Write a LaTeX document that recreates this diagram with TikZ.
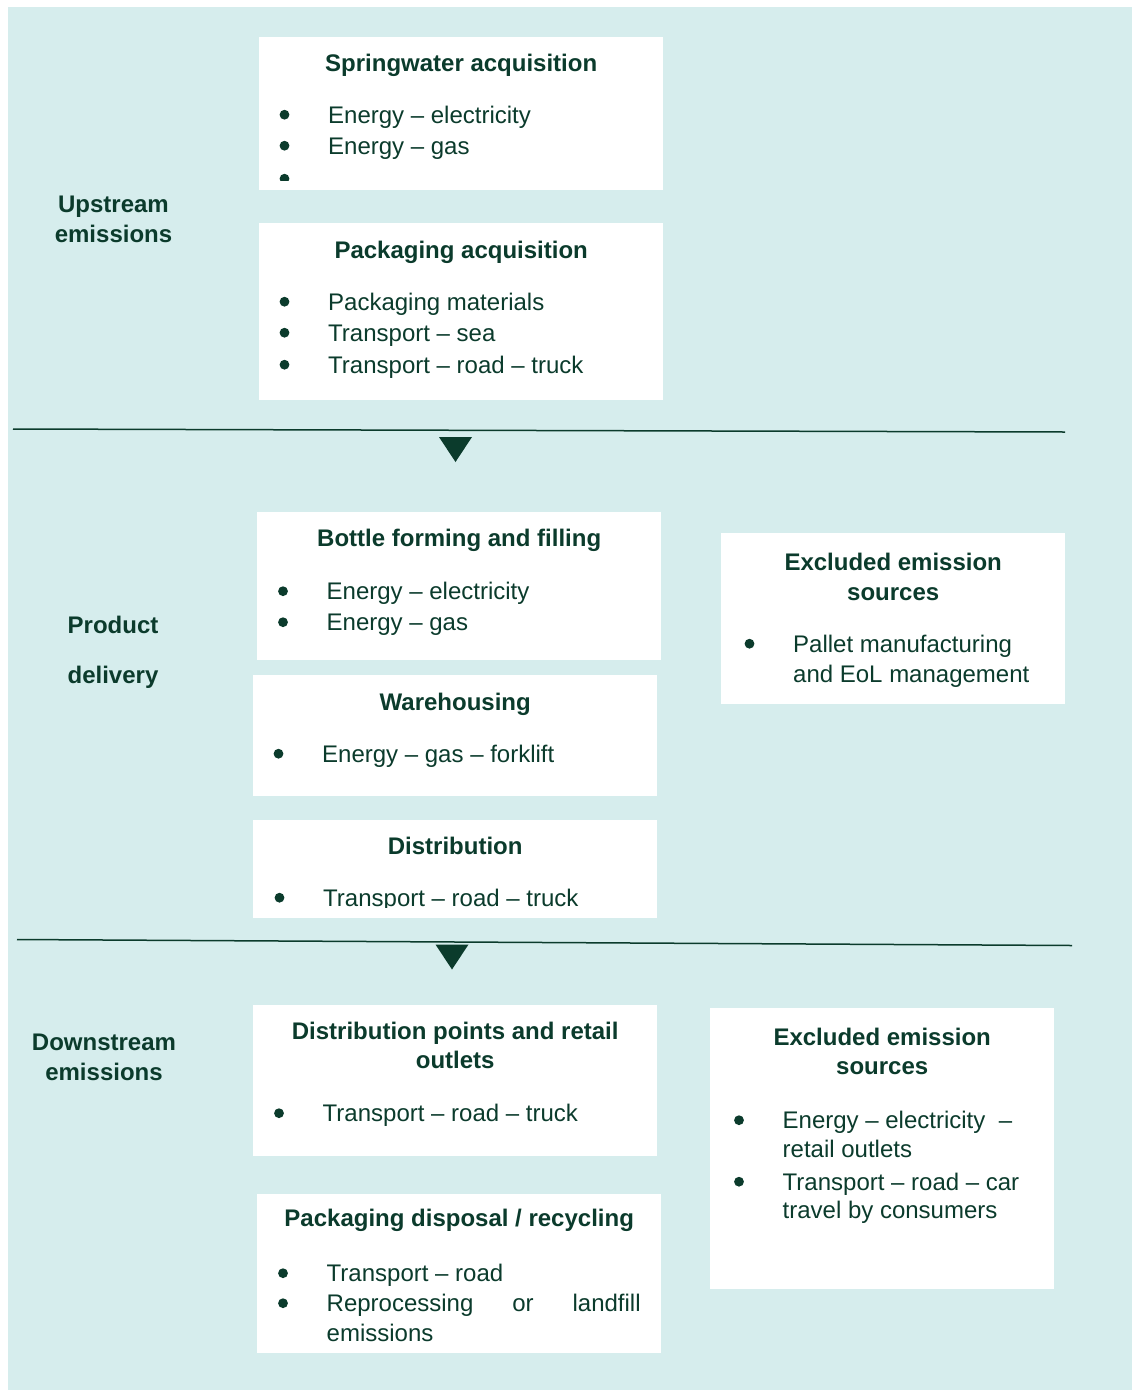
\documentclass[tikz,border=0pt]{standalone}
\usepackage{fontspec}
\setmainfont{Liberation Sans}
\usepackage{tikz}
\definecolor{panelcyan}{RGB}{214,237,237}
\definecolor{inkgreen}{RGB}{11,59,44}

\begin{document}
\begin{tikzpicture}[
    x=1pt, y=-1pt,
    every node/.style={text=inkgreen},
    box/.style={rectangle, fill=white, anchor=north west, inner sep=0pt},
    head/.style={anchor=base, align=center, inner sep=0pt, font=\bfseries\fontsize{24}{30}\selectfont},
    item/.style={anchor=base west, align=left, inner sep=0pt, font=\fontsize{24}{30}\selectfont},
    stage/.style={anchor=base, align=center, inner sep=0pt, font=\bfseries\fontsize{24}{30}\selectfont},
    sep/.style={draw=inkgreen, line width=1.5pt},
    marker/.style={fill=inkgreen}
]
    \useasboundingbox (0,0) rectangle (1132,1390);
    \fill[panelcyan] (8,7) rectangle (1132,1390);

    % Stage labels (placed at the baseline of their last line)
    \node[stage] (upstream) at (113.5,242) {Upstream\\emissions};
    \node[stage] (product) at (113,683) {Product\\[20pt]delivery};
    \node[stage] (downstream) at (104,1080) {Downstream\\emissions};

    % Boxes
    \node[box, minimum width=404pt, minimum height=153pt] (spring) at (259,37) {};
    \node[box, minimum width=404pt, minimum height=177pt] (packin) at (259,223) {};
    \node[box, minimum width=404pt, minimum height=148pt] (bottle) at (257,512) {};
    \node[box, minimum width=404pt, minimum height=121pt] (wareh) at (253,675) {};
    \node[box, minimum width=404pt, minimum height=98pt] (distrib) at (253,820) {};
    \node[box, minimum width=344pt, minimum height=171pt] (exclA) at (721,533) {};
    \node[box, minimum width=404pt, minimum height=151pt] (retail) at (253,1005) {};
    \node[box, minimum width=404pt, minimum height=159pt] (dispose) at (257,1194) {};
    \node[box, minimum width=344pt, minimum height=281pt] (exclB) at (710,1008) {};

    % Headings
    \node[head] (springH) at ([yshift=-34.5pt]spring.north) {Springwater acquisition};
    \node[head] (packinH) at ([yshift=-35pt]packin.north) {Packaging acquisition};
    \node[head] (bottleH) at ([yshift=-34pt]bottle.north) {Bottle forming and filling};
    \node[head] (warehH) at ([yshift=-35pt]wareh.north) {Warehousing};
    \node[head] (distribH) at ([yshift=-34pt]distrib.north) {Distribution};
    \node[head] (exclAH) at ([yshift=-67pt]exclA.north) {Excluded emission\\sources};
    \node[head] (retailH) at ([yshift=-63pt]retail.north) {Distribution points and retail\\[-1pt]outlets};
    \node[head] (disposeH) at ([yshift=-32pt]dispose.north) {Packaging disposal / recycling};
    \node[head] (exclBH) at ([yshift=-66pt]exclB.north) {Excluded emission\\[-1pt]sources};

    % Items
    \node[item] (springA) at (328,123) {Energy – electricity};
    \node[item] (springB) at (328,154) {Energy – gas};
    \node[item] (packinA) at (328,310) {Packaging materials};
    \node[item] (packinB) at (328,341) {Transport – sea};
    \node[item] (packinC) at (328,373) {Transport – road – truck};
    \node[item] (bottleA) at (326.5,599.5) {Energy – electricity};
    \node[item] (bottleB) at (326.5,630.5) {Energy – gas};
    \node[item] (warehA) at (322,762) {Energy – gas – forklift};
    \node[item] (exclAA) at (793,682) {Pallet manufacturing\\and EoL management};
    \node[item] (retailA) at (322.5,1121.5) {Transport – road – truck};
    \node[item] (disposeA) at (326.5,1281.5) {Transport – road};
    \node[item] (disposeB) at (326.5,1341) {\makebox[314pt][s]{Reprocessing\hfill or\hfill landfill}\\[-0.5pt]emissions};
    \node[item] (exclBA) at (782.5,1157) {Energy – electricity\ \ –\\[-1.5pt]retail outlets};
    \node[item] (exclBB) at (782.5,1218.5) {Transport – road – car\\[-1.5pt]travel by consumers};

    % Clipped lines at box edges
    \begin{scope}
        \clip (spring.north west) rectangle ([yshift=10pt]spring.south east);
        \fill[marker] ([xshift=-43.5pt,yshift=-24.7pt]springB.base west) circle (4.9pt);
    \end{scope}
    \begin{scope}
        \clip (distrib.north west) rectangle ([yshift=11pt]distrib.south east);
        \node[item] (distribA) at (323,906) {Transport – road – truck};
    \end{scope}

    % Bullets (raised to the first line of each item)
    \foreach \n/\dy in {springA/8.3, springB/8.3, packinA/8.3, packinB/8.3, packinC/8.3,
                        bottleA/8.3, bottleB/8.3, warehA/8.3, distribA/8.3, retailA/8.3,
                        disposeA/8.3, exclAA/38.3, disposeB/37.8, exclBA/36.8, exclBB/36.8}
        \fill[marker] ([xshift=-43.5pt,yshift=\dy pt]\n.base west) circle (4.9pt);

    % Separators
    \coordinate (sepAl) at (13,429);
    \coordinate (sepAr) at (1065,432);
    \coordinate (sepBl) at (17,939.5);
    \coordinate (sepBr) at (1072,945.5);
    \draw[sep] (sepAl) -- (sepAr);
    \draw[sep] (sepBl) -- (sepBr);
    \fill[marker] (439,437) -- (472,437) -- (455.5,462) -- cycle;
    \fill[marker] (435.5,944.5) -- (468.5,944.5) -- (452,969.5) -- cycle;

\end{tikzpicture}
\end{document}
